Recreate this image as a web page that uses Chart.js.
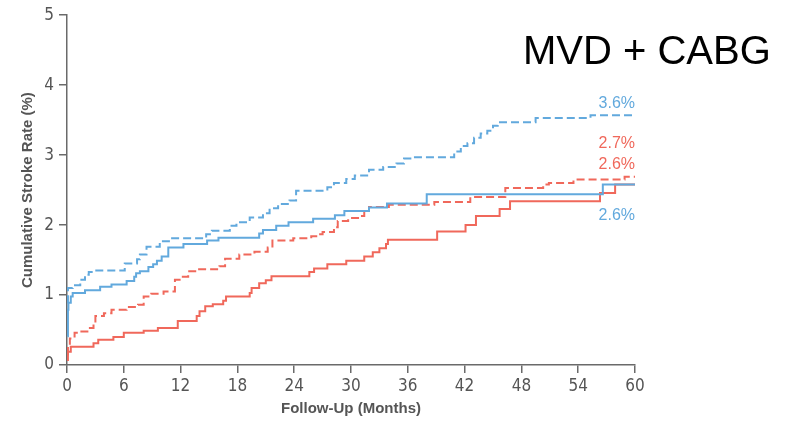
<!DOCTYPE html>
<html>
<head>
<meta charset="utf-8">
<script src="https://cdn.jsdelivr.net/npm/chart.js@4.4.1/dist/chart.umd.min.js"></script>
<style>
  html, body { margin: 0; padding: 0; background: #fff; }
  #wrap { width: 788px; height: 421px; position: relative; }
</style>
</head>
<body>
<div id="wrap"><canvas id="strokeChart" width="788" height="421"></canvas></div>
<script>
const xTicks = [0, 6, 12, 18, 24, 30, 36, 42, 48, 54, 60];
const yTicks = [0, 1, 2, 3, 4, 5];

// blue dashed (top curve, 3.6%)
const blueDashedMonths = [0.05, 0.1, 0.6, 1.4, 1.9, 2.3, 2.8, 6.1, 7.4, 7.7, 8.4, 9.8, 10.9, 14.7, 15.3, 17.2, 17.9, 19.3, 20.7, 21.4, 22.3, 23.5, 24.2, 27.5, 28.2, 29.5, 30.4, 31.9, 33.4, 34.8, 35.6, 36.4, 40.9, 41.6, 42.3, 43.0, 43.7, 44.4, 45.0, 45.5, 49.5, 55.3, 60];
const blueDashedRates = [0.89, 1.1, 1.14, 1.22, 1.29, 1.33, 1.35, 1.45, 1.51, 1.58, 1.69, 1.77, 1.81, 1.87, 1.92, 1.99, 2.04, 2.11, 2.17, 2.24, 2.3, 2.35, 2.49, 2.54, 2.6, 2.66, 2.71, 2.79, 2.83, 2.88, 2.95, 2.97, 3.05, 3.13, 3.17, 3.25, 3.31, 3.35, 3.42, 3.47, 3.53, 3.57, 3.57];

// blue solid (2.6%)
const blueSolidMonths = [0.05, 0.1, 0.15, 0.4, 0.6, 1.9, 3.5, 4.7, 6.3, 7.1, 7.3, 7.7, 8.6, 9.1, 9.5, 10.0, 10.7, 12.3, 14.8, 16.0, 20.3, 20.7, 22.1, 23.4, 26.0, 28.3, 29.3, 31.9, 33.8, 38.0, 56.6, 60];
const blueSolidRates = [0.41, 0.79, 0.89, 0.98, 1.03, 1.07, 1.12, 1.15, 1.2, 1.26, 1.31, 1.34, 1.4, 1.44, 1.49, 1.55, 1.68, 1.73, 1.78, 1.82, 1.88, 1.93, 1.99, 2.04, 2.09, 2.14, 2.2, 2.25, 2.31, 2.44, 2.58, 2.58];

// red dashed (2.7%)
const redDashedMonths = [0.05, 0.1, 0.3, 0.8, 1.3, 2.3, 2.8, 3.0, 3.9, 4.7, 6.3, 7.5, 8.1, 8.9, 10.2, 11.4, 12.1, 12.8, 13.7, 16.1, 16.7, 18.2, 19.8, 21.2, 21.7, 23.9, 25.8, 26.5, 27.0, 28.2, 28.6, 29.7, 31.0, 31.4, 31.9, 34.0, 38.8, 42.6, 46.3, 50.3, 50.9, 53.5, 58.9, 60];
const redDashedRates = [0.15, 0.27, 0.38, 0.46, 0.48, 0.53, 0.58, 0.7, 0.74, 0.79, 0.83, 0.86, 0.98, 1.02, 1.05, 1.22, 1.26, 1.34, 1.37, 1.41, 1.52, 1.58, 1.62, 1.68, 1.78, 1.81, 1.84, 1.87, 1.9, 1.97, 2.06, 2.1, 2.13, 2.2, 2.26, 2.29, 2.33, 2.4, 2.53, 2.58, 2.6, 2.65, 2.69, 2.69];

// red solid (2.6%)
const redSolidMonths = [0, 0.1, 0.4, 2.8, 3.3, 4.9, 6.0, 8.1, 9.6, 11.7, 13.7, 14.0, 14.6, 15.4, 16.5, 16.8, 19.3, 19.5, 20.3, 21.0, 21.6, 25.6, 26.1, 27.5, 29.5, 31.4, 32.3, 33.0, 33.7, 33.9, 39.1, 42.1, 43.2, 45.7, 46.8, 56.3, 57.9, 60];
const redSolidRates = [0.07, 0.19, 0.26, 0.31, 0.36, 0.4, 0.46, 0.49, 0.53, 0.63, 0.7, 0.77, 0.84, 0.87, 0.92, 0.98, 1.03, 1.1, 1.17, 1.21, 1.27, 1.33, 1.38, 1.44, 1.49, 1.55, 1.61, 1.67, 1.73, 1.79, 1.91, 2.0, 2.13, 2.23, 2.34, 2.46, 2.58, 2.58];

const endLabels = ["3.6%", "2.6%", "2.7%", "2.6%"];

const BLUE = "#62a9dd";
const RED = "#f0685b";
const AXIS = "#6a6a6a";
const TICK_TEXT = "#555555";
const narrow = "'Liberation Sans Narrow', 'DejaVu Sans Condensed', 'Liberation Sans', sans-serif";

function toPoints(months, rates) {
  return months.map((m, i) => ({ x: m, y: rates[i] }));
}

function series(label, months, rates, color, dashed, labelShift) {
  return {
    label,
    data: toPoints(months, rates),
    borderColor: color,
    backgroundColor: color,
    borderWidth: 2,
    borderDash: dashed ? [8, 4] : [],
    stepped: "before",
    pointRadius: 0,
    fill: false,
    labelShift
  };
}

const datasets = [
  series(endLabels[0], blueDashedMonths, blueDashedRates, BLUE, true, -12),
  series(endLabels[1], blueSolidMonths, blueSolidRates, BLUE, false, 31),
  series(endLabels[2], redDashedMonths, redDashedRates, RED, true, -33),
  series(endLabels[3], redSolidMonths, redSolidRates, RED, false, -20)
];

const annotations = {
  id: "annotations",
  afterDatasetsDraw(chart) {
    const { ctx, scales } = chart;
    ctx.save();
    ctx.font = "16px 'Liberation Sans', sans-serif";
    ctx.textAlign = "right";
    ctx.textBaseline = "middle";
    chart.data.datasets.forEach((ds) => {
      const last = ds.data[ds.data.length - 1];
      ctx.fillStyle = ds.borderColor;
      ctx.fillText(ds.label, scales.x.getPixelForValue(60), scales.y.getPixelForValue(last.y) + ds.labelShift);
    });
    ctx.fillStyle = "#000";
    ctx.textAlign = "left";
    ctx.textBaseline = "alphabetic";
    ctx.font = "40px 'Liberation Sans', sans-serif";
    ctx.fillText("MVD + CABG", 523, 64);
    ctx.restore();
  }
};

new Chart(document.getElementById("strokeChart"), {
  type: "line",
  data: { datasets },
  plugins: [annotations],
  options: {
    responsive: false,
    animation: false,
    events: [],
    layout: { padding: { top: 15, right: 153, left: 0, bottom: 0 } },
    plugins: { legend: { display: false }, tooltip: { enabled: false } },
    scales: {
      x: {
        type: "linear",
        min: 0,
        max: 60,
        afterBuildTicks: (scale) => { scale.ticks = xTicks.map((v) => ({ value: v })); },
        afterFit: (scale) => { scale.height = 56; },
        border: { color: AXIS, width: 1.5 },
        grid: { drawOnChartArea: false, drawTicks: true, tickLength: 8, color: AXIS, lineWidth: 1.5 },
        ticks: { color: TICK_TEXT, font: { family: narrow, size: 17 }, padding: 3, maxRotation: 0 },
        title: {
          display: true,
          text: "Follow-Up (Months)",
          color: "#555",
          font: { family: "'Liberation Sans', sans-serif", size: 15, weight: "bold" },
          padding: { top: 0, bottom: 3 }
        }
      },
      y: {
        min: 0,
        max: 5,
        afterBuildTicks: (scale) => { scale.ticks = yTicks.map((v) => ({ value: v })); },
        afterFit: (scale) => { scale.width = 67; },
        border: { color: AXIS, width: 1.5 },
        grid: { drawOnChartArea: false, drawTicks: true, tickLength: 8, color: AXIS, lineWidth: 1.5 },
        ticks: { color: TICK_TEXT, font: { family: narrow, size: 17 }, padding: 5 },
        title: {
          display: true,
          text: "Cumulative Stroke Rate (%)",
          color: "#555",
          font: { family: "'Liberation Sans', sans-serif", size: 15, weight: "bold" },
          padding: { top: 19, bottom: 0 }
        }
      }
    }
  }
});
</script>
</body>
</html>
